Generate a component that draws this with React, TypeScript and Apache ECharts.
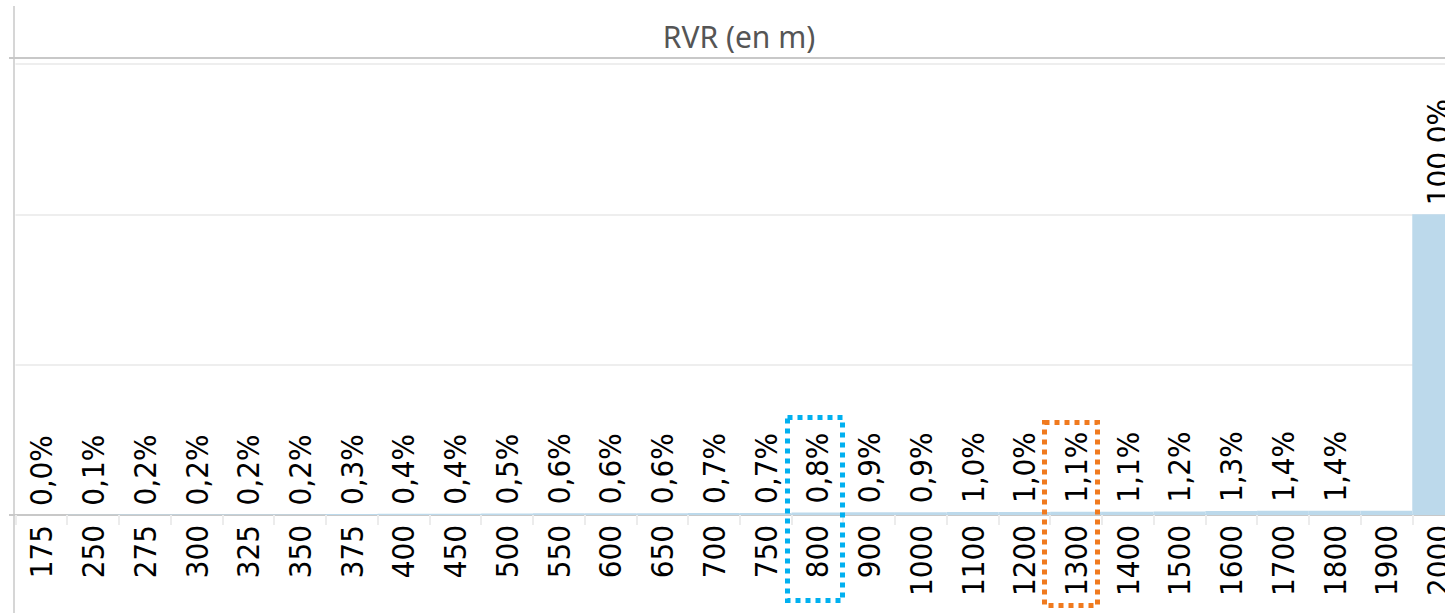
import React, { useEffect, useRef } from "react";
import * as echarts from "echarts";

const categories = ["175","250","275","300","325","350","375","400","450","500","550","600","650","700","750","800","900","1000","1100","1200","1300","1400","1500","1600","1700","1800","1900","2000"];
const values = [0.0,0.1,0.2,0.2,0.2,0.2,0.3,0.4,0.4,0.5,0.6,0.6,0.6,0.7,0.7,0.8,0.9,0.9,1.0,1.0,1.1,1.1,1.2,1.3,1.4,1.4,1.4,100.0];
const hiddenLabels = ["1900"];
const yTicks = [0, 50, 100, 150];
const title = "RVR (en m)";

const labelFont = "'DejaVu Sans Condensed', 'DejaVu Sans', sans-serif";

export default function App() {
  const ref = useRef<HTMLDivElement>(null);
  useEffect(() => {
    if (!ref.current) return;
    const chart = echarts.init(ref.current, null, { renderer: "svg" });
    chart.setOption({
      animation: false,
      grid: { left: 15.5, right: 16, top: 64, bottom: 98, containLabel: false },
      xAxis: {
        type: "category",
        data: categories,
        axisLine: { show: true, lineStyle: { color: "#c8c8c8", width: 2 } },
        axisTick: { show: true, alignWithLabel: false, length: 10, lineStyle: { color: "#ececec", width: 2 } },
        axisLabel: { rotate: 90, fontSize: 31, color: "#000", fontFamily: labelFont, margin: 10, interval: 0 },
      },
      yAxis: {
        type: "value",
        min: yTicks[0],
        max: yTicks[yTicks.length - 1],
        interval: yTicks[1] - yTicks[0],
        axisLine: { show: false },
        axisTick: { show: false },
        axisLabel: { show: false },
        splitLine: { lineStyle: { color: "#eeeeee", width: 2 } },
      },
      series: [
        {
          type: "bar",
          data: values.map((v, i) => ({
            value: v,
            label: { show: !hiddenLabels.includes(categories[i]) },
          })),
          barCategoryGap: "0%",
          itemStyle: { color: "#bcd9eb" },
          label: {
            show: true,
            position: "top",
            rotate: 90,
            align: "left",
            verticalAlign: "middle",
            distance: 9,
            fontSize: 31,
            color: "#000",
            fontFamily: labelFont,
            formatter: (p: any) => p.value.toFixed(1).replace(".", ",") + "%",
          },
        },
      ],
      graphic: [
        { type: "line", shape: { x1: 14, y1: 6, x2: 14, y2: 613 }, style: { stroke: "#d6d6d6", lineWidth: 2 }, z: 10 },
        { type: "line", shape: { x1: 9, y1: 58, x2: 1480, y2: 58 }, style: { stroke: "#c8c8c8", lineWidth: 2 }, z: 10 },
        { type: "line", shape: { x1: 9, y1: 515, x2: 15, y2: 515 }, style: { stroke: "#c8c8c8", lineWidth: 2 }, z: 10 },
        {
          type: "text",
          x: 739,
          y: 36,
          style: { text: title, fontSize: 30, fill: "#555555", fontFamily: "'Noto Sans', sans-serif", align: "center", verticalAlign: "middle" },
          z: 10,
        },
        {
          type: "rect",
          shape: { x: 787.5, y: 417.5, width: 55, height: 183 },
          style: { fill: "none", stroke: "#00b0f0", lineWidth: 5, lineDash: [5, 5] },
          z: 20,
        },
        {
          type: "rect",
          shape: { x: 1044.5, y: 422.5, width: 53, height: 183 },
          style: { fill: "none", stroke: "#f07a1e", lineWidth: 5, lineDash: [5, 5] },
          z: 20,
        },
      ],
    });
    return () => chart.dispose();
  }, []);
  return (
    <div style={{ position: "fixed", left: 0, top: 0, width: 1445, height: 613, overflow: "hidden", background: "#fff" }}>
      <div ref={ref} style={{ width: 1480, height: 613 }} />
    </div>
  );
}
